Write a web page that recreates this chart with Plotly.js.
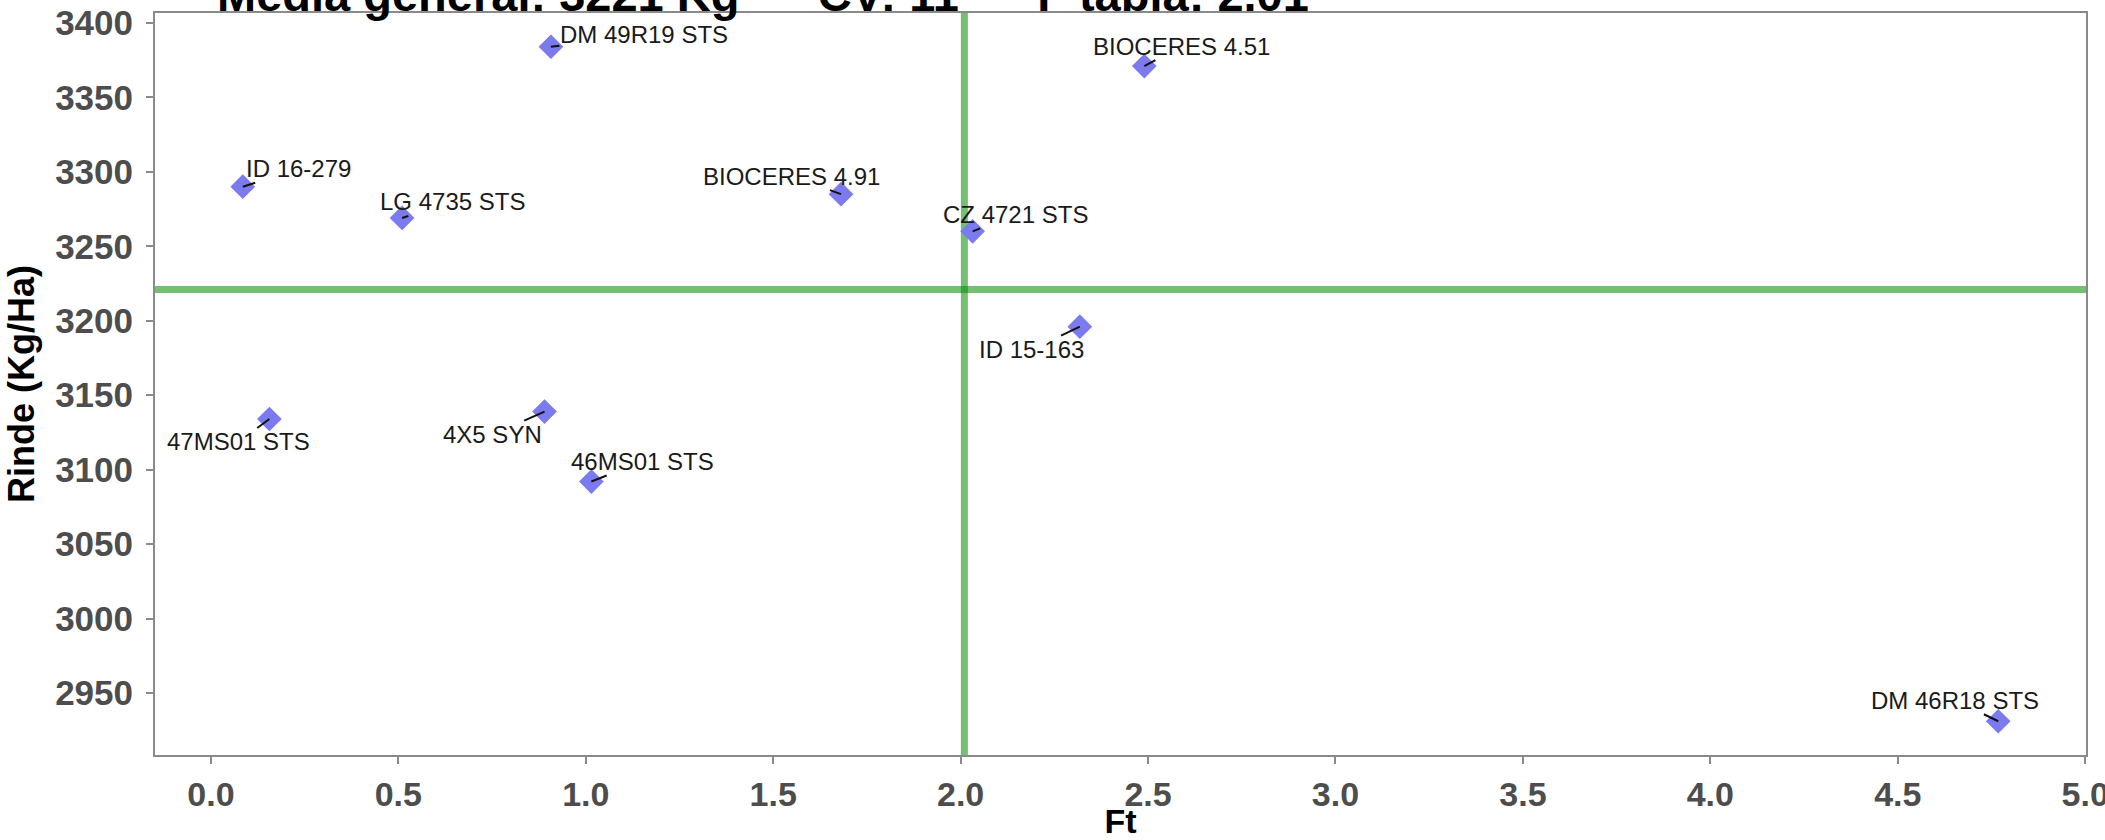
<!DOCTYPE html>
<html>
<head>
<meta charset="utf-8">
<script src="https://cdn.plot.ly/plotly-3.0.1.min.js"></script>
<style>
html,body{margin:0;padding:0;background:#fff;}
#chart{width:2105px;height:840px;}
</style>
</head>
<body>
<div id="chart"></div>
<script>
// ---- data ----
const genotypes = ["DM 49R19 STS","BIOCERES 4.51","ID 16-279","LG 4735 STS","BIOCERES 4.91","CZ 4721 STS","ID 15-163","47MS01 STS","4X5 SYN","46MS01 STS","DM 46R18 STS"];
const ftValues = [0.907, 2.490, 0.085, 0.510, 1.681, 2.032, 2.318, 0.156, 0.890, 1.015, 4.768];
const rindeValues = [3384, 3371, 3290, 3269, 3285, 3260, 3196, 3134, 3139, 3092, 2931];
const mediaGeneral = 3221;
const cvValue = 11;
const fTabla = 2.01;
const xTickValues = [0, 0.5, 1, 1.5, 2, 2.5, 3, 3.5, 4, 4.5, 5];
const yTickValues = [2950, 3000, 3050, 3100, 3150, 3200, 3250, 3300, 3350, 3400];

// label placement offsets (pixels, label centre relative to point)
const labelOffsets = [[93,-12],[37,-20],[56,-18],[50,-16],[-50,-18],[43,-17],[-48,23],[-31,23],[-52,23],[51,-20],[-43,-21]];

function expandRange(vals){
  const mn = Math.min(...vals), mx = Math.max(...vals);
  const pad = 0.05*(mx-mn);
  return [mn-pad, mx+pad];
}

const FONT = "Liberation Sans, Arial, sans-serif";
const lineGreen = "rgba(0,140,0,0.55)";
const axisGrey = "#8a8a8a";

const trace = {
  type: "scatter",
  mode: "markers",
  x: ftValues,
  y: rindeValues,
  text: genotypes,
  marker: {symbol: "diamond", size: 19, color: "#7b7bef", line: {width: 0}},
  hoverinfo: "text+x+y",
  showlegend: false
};

const annotations = genotypes.map((g,i)=>({
  x: ftValues[i], y: rindeValues[i], xref: "x", yref: "y",
  text: g, showarrow: true, arrowhead: 0, arrowwidth: 2, arrowcolor: "#111",
  standoff: 0, startstandoff: 0,
  ax: labelOffsets[i][0], ay: labelOffsets[i][1],
  font: {family: FONT, size: 24, color: "#1a1a1a"},
  borderpad: 0
}));

const gap = "\u00a0".repeat(6);
const titleText = "Media general: " + mediaGeneral + " Kg" + gap + "CV: " + cvValue + gap + "F tabla: " + fTabla.toFixed(2);
annotations.push({
  xref: "paper", yref: "paper", x: 0.031, y: 1, xanchor: "left", yanchor: "bottom",
  yshift: -10, showarrow: false, text: "<b>" + titleText + "</b>",
  font: {family: FONT, size: 47, color: "#000"}
});

const layout = {
  width: 2105, height: 840,
  margin: {l: 155, r: 19, t: 13, b: 85, pad: 0},
  paper_bgcolor: "#fff", plot_bgcolor: "#fff",
  font: {family: FONT},
  xaxis: {
    range: expandRange(ftValues),
    tickvals: xTickValues, ticktext: xTickValues.map(v=>v.toFixed(1)),
    showgrid: false, zeroline: false,
    showline: true, mirror: true, linecolor: axisGrey, linewidth: 2,
    ticks: "outside", ticklen: 7, tickwidth: 2, tickcolor: axisGrey,
    tickfont: {family: FONT, size: 34, color: "#4d4d4d", weight: "bold"},
    ticklabeloverflow: "allow",
    ticklabelstandoff: 1,
    automargin: false,
    title: {text: "<b>Ft</b>", font: {family: FONT, size: 34, color: "#000"}, standoff: 6}
  },
  yaxis: {
    range: expandRange(rindeValues),
    tickvals: yTickValues,
    showgrid: false, zeroline: false,
    showline: true, mirror: true, linecolor: axisGrey, linewidth: 2,
    ticks: "outside", ticklen: 7, tickwidth: 2, tickcolor: axisGrey,
    tickfont: {family: FONT, size: 35, color: "#4d4d4d", weight: "bold"},
    ticklabelstandoff: 6,
    automargin: false,
    title: {text: "<b>Rinde (Kg/Ha)</b>", font: {family: FONT, size: 36, color: "#000"}, standoff: 10}
  },
  shapes: [
    {type: "line", xref: "x", yref: "paper", x0: fTabla, x1: fTabla, y0: 0, y1: 1, line: {color: lineGreen, width: 7}, layer: "below"},
    {type: "line", xref: "paper", yref: "y", x0: 0, x1: 1, y0: mediaGeneral, y1: mediaGeneral, line: {color: lineGreen, width: 7}, layer: "below"}
  ],
  annotations: annotations
};

Plotly.newPlot("chart", [trace], layout, {displayModeBar: false, staticPlot: true});
</script>
</body>
</html>
